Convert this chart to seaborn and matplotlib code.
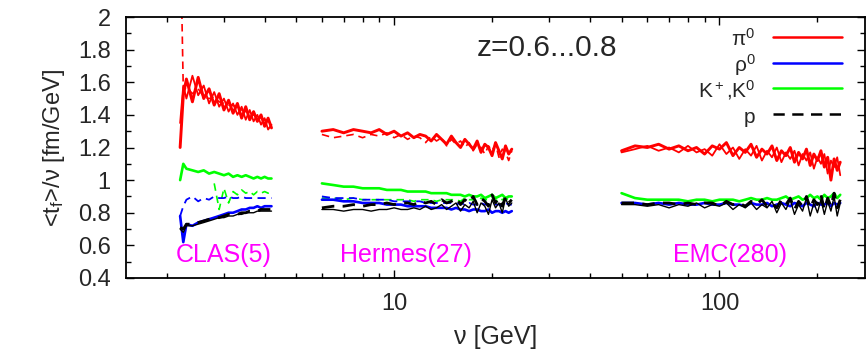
import numpy as np
import pandas as pd
import matplotlib
matplotlib.use("Agg")
import matplotlib.pyplot as plt
import seaborn as sns
from matplotlib.ticker import LogLocator, NullFormatter, MultipleLocator

# ---------------- data ----------------
nu_clas = [2.2, 2.25, 2.3, 2.4, 2.5, 2.6, 2.7, 2.8, 2.9, 3.0, 3.1, 3.2, 3.3, 3.4,
           3.5, 3.6, 3.7, 3.8, 3.9, 4.0, 4.1, 4.2]
nu_clas_late = [2.8, 2.9, 3.0, 3.1, 3.2, 3.3, 3.4, 3.5, 3.6, 3.7, 3.8, 3.9, 4.0, 4.1, 4.2]
nu_herm = [6.0, 6.5, 7.0, 7.5, 8.0, 8.5, 9.0, 9.5, 10.0, 10.5, 11.0, 11.5, 12.0, 12.5,
           13.0, 13.5, 14.0, 14.5, 15.0, 15.5, 16.0, 16.5, 17.0, 17.5, 18.0, 18.5,
           19.0, 19.5, 20.0, 20.5, 21.0, 21.5, 22.0, 22.5, 23.0]
nu_emc = [50, 55, 60, 65, 70, 75, 80, 85, 90, 95, 100, 105, 110, 115, 120, 125, 130,
          135, 140, 145, 150, 155, 160, 165, 170, 175, 180, 185, 190, 195, 200, 205,
          210, 215, 220, 225, 230, 235]

# pi0
pi_clas_a = [1.20, 1.52, 1.62, 1.48, 1.63, 1.50, 1.56, 1.46, 1.53, 1.43, 1.49, 1.41, 1.47,
             1.38, 1.45, 1.37, 1.42, 1.36, 1.40, 1.33, 1.38, 1.32]
pi_clas_b = [1.35, 1.58, 1.50, 1.64, 1.52, 1.58, 1.47, 1.54, 1.45, 1.50, 1.42, 1.47, 1.40,
             1.45, 1.37, 1.43, 1.36, 1.40, 1.34, 1.38, 1.31, 1.34]
pi_clas_d = [2.60, 1.55, 1.57, 1.53, 1.56, 1.51, 1.50, 1.51, 1.48, 1.47, 1.46, 1.46, 1.44,
             1.43, 1.42, 1.42, 1.40, 1.39, 1.38, 1.37, 1.36, 1.35]
pi_herm_a = [1.30, 1.31, 1.29, 1.31, 1.30, 1.29, 1.31, 1.28, 1.30, 1.27, 1.29, 1.26, 1.28,
             1.27, 1.24, 1.28, 1.25, 1.22, 1.27, 1.23, 1.20, 1.25, 1.22, 1.19, 1.24, 1.17,
             1.22, 1.20, 1.15, 1.23, 1.18, 1.13, 1.21, 1.16, 1.19]
pi_herm_d = [1.28, 1.26, 1.27, 1.28, 1.26, 1.28, 1.27, 1.29, 1.26, 1.28, 1.25, 1.27, 1.26,
             1.23, 1.27, 1.24, 1.26, 1.21, 1.25, 1.22, 1.24, 1.20, 1.23, 1.18, 1.22, 1.20,
             1.16, 1.21, 1.18, 1.22, 1.14, 1.19, 1.17, 1.12, 1.18]
pi_emc_a = [1.18, 1.21, 1.20, 1.22, 1.19, 1.21, 1.18, 1.20, 1.16, 1.21, 1.19, 1.23, 1.15,
            1.20, 1.17, 1.22, 1.14, 1.19, 1.16, 1.21, 1.12, 1.18, 1.15, 1.20, 1.11, 1.17,
            1.13, 1.19, 1.09, 1.16, 1.12, 1.18, 1.08, 1.14, 1.00, 1.13, 1.06, 1.11]
pi_emc_b = [1.17, 1.19, 1.21, 1.18, 1.20, 1.17, 1.21, 1.17, 1.19, 1.15, 1.22, 1.16, 1.20,
            1.13, 1.19, 1.15, 1.21, 1.12, 1.18, 1.14, 1.20, 1.11, 1.17, 1.13, 1.18, 1.09,
            1.16, 1.12, 1.17, 1.07, 1.14, 1.10, 1.16, 1.04, 1.12, 1.08, 1.14, 1.03]

# rho0
rho_clas_a = [0.78, 0.62, 0.73, 0.72, 0.74, 0.75, 0.76, 0.77, 0.78, 0.79, 0.80, 0.80, 0.81,
              0.82, 0.82, 0.83, 0.83, 0.84, 0.83, 0.84, 0.84, 0.84]
rho_clas_d = [0.78, 0.84, 0.88, 0.90, 0.87, 0.89, 0.88, 0.90, 0.89, 0.89, 0.90, 0.89, 0.89,
              0.90, 0.89, 0.89, 0.89, 0.89, 0.89, 0.89, 0.89, 0.89]
rho_herm_a = [0.88, 0.88, 0.87, 0.87, 0.86, 0.86, 0.86, 0.85, 0.85, 0.85, 0.84, 0.84, 0.84,
              0.84, 0.83, 0.83, 0.83, 0.83, 0.82, 0.83, 0.82, 0.82, 0.81, 0.82, 0.82, 0.81,
              0.81, 0.82, 0.80, 0.81, 0.81, 0.80, 0.81, 0.80, 0.81]
rho_herm_d = [0.90, 0.89, 0.89, 0.89, 0.88, 0.88, 0.88, 0.88, 0.87, 0.87, 0.87, 0.87, 0.87,
              0.86, 0.86, 0.86, 0.86, 0.86, 0.86, 0.85, 0.86, 0.85, 0.86, 0.85, 0.85, 0.86,
              0.85, 0.85, 0.86, 0.85, 0.85, 0.84, 0.86, 0.85, 0.85]
rho_emc_a = [0.86, 0.86, 0.85, 0.86, 0.85, 0.86, 0.85, 0.85, 0.86, 0.85, 0.85, 0.86, 0.85,
             0.85, 0.84, 0.86, 0.85, 0.85, 0.86, 0.84, 0.85, 0.86, 0.85, 0.84, 0.86, 0.85,
             0.84, 0.86, 0.85, 0.84, 0.86, 0.85, 0.85, 0.86, 0.84, 0.86, 0.85, 0.86]

# K+, K0
k_clas_a = [1.00, 1.10, 1.07, 1.06, 1.05, 1.06, 1.04, 1.05, 1.04, 1.03, 1.04, 1.02, 1.03,
            1.02, 1.03, 1.02, 1.01, 1.02, 1.01, 1.02, 1.01, 1.01]
k_clas_d = [0.98, 0.82, 0.95, 0.86, 0.93, 0.91, 0.94, 0.92, 0.93, 0.91, 0.93, 0.92, 0.93,
            0.92, 0.93]
k_herm_a = [0.98, 0.97, 0.96, 0.96, 0.95, 0.95, 0.95, 0.94, 0.94, 0.94, 0.93, 0.93, 0.93,
            0.93, 0.92, 0.92, 0.92, 0.92, 0.91, 0.91, 0.91, 0.90, 0.91, 0.90, 0.90, 0.91,
            0.89, 0.90, 0.91, 0.89, 0.90, 0.91, 0.89, 0.90, 0.90]
k_herm_d = [0.89, 0.89, 0.88, 0.89, 0.88, 0.88, 0.88, 0.88, 0.88, 0.88, 0.88, 0.87, 0.88,
            0.88, 0.88, 0.87, 0.88, 0.88, 0.88, 0.88, 0.87, 0.89, 0.88, 0.88, 0.87, 0.89,
            0.88, 0.88, 0.89, 0.87, 0.89, 0.88, 0.89, 0.88, 0.88]
k_emc_a = [0.92, 0.89, 0.88, 0.88, 0.88, 0.88, 0.87, 0.88, 0.88, 0.87, 0.88, 0.88, 0.88,
           0.87, 0.88, 0.89, 0.88, 0.88, 0.89, 0.88, 0.88, 0.89, 0.90, 0.88, 0.89, 0.90,
           0.88, 0.89, 0.91, 0.89, 0.90, 0.88, 0.91, 0.89, 0.90, 0.92, 0.89, 0.91]

# p
p_clas_a = [0.70, 0.68, 0.72, 0.72, 0.73, 0.74, 0.75, 0.76, 0.77, 0.77, 0.78, 0.78, 0.79,
            0.79, 0.80, 0.80, 0.80, 0.81, 0.81, 0.81, 0.81, 0.81]
p_clas_d = [0.71, 0.70, 0.73, 0.73, 0.74, 0.75, 0.76, 0.77, 0.77, 0.78, 0.79, 0.79, 0.79,
            0.80, 0.80, 0.81, 0.81, 0.81, 0.82, 0.82, 0.82, 0.82]
p_herm_a = [0.82, 0.82, 0.81, 0.82, 0.82, 0.81, 0.82, 0.82, 0.83, 0.82, 0.82, 0.83, 0.82,
            0.84, 0.82, 0.83, 0.85, 0.82, 0.84, 0.86, 0.81, 0.85, 0.83, 0.87, 0.80, 0.86,
            0.84, 0.79, 0.88, 0.83, 0.86, 0.80, 0.89, 0.84, 0.86]
p_herm_d = [0.83, 0.84, 0.84, 0.85, 0.84, 0.85, 0.85, 0.86, 0.85, 0.86, 0.86, 0.85, 0.87,
            0.86, 0.87, 0.85, 0.88, 0.86, 0.87, 0.89, 0.85, 0.88, 0.86, 0.90, 0.85, 0.89,
            0.87, 0.84, 0.91, 0.86, 0.89, 0.84, 0.90, 0.86, 0.88]
p_emc_a = [0.85, 0.85, 0.84, 0.85, 0.83, 0.85, 0.84, 0.86, 0.83, 0.85, 0.84, 0.86, 0.82,
           0.85, 0.83, 0.86, 0.82, 0.85, 0.83, 0.87, 0.80, 0.86, 0.82, 0.88, 0.79, 0.85,
           0.81, 0.89, 0.78, 0.86, 0.80, 0.88, 0.79, 0.87, 0.81, 0.90, 0.78, 0.86]
p_emc_d = [0.86, 0.86, 0.85, 0.86, 0.86, 0.85, 0.86, 0.85, 0.86, 0.86, 0.84, 0.87, 0.85,
           0.86, 0.84, 0.87, 0.85, 0.88, 0.84, 0.86, 0.83, 0.88, 0.85, 0.89, 0.82, 0.87,
           0.84, 0.90, 0.83, 0.88, 0.85, 0.91, 0.82, 0.89, 0.84, 0.92, 0.83, 0.88]

legend_labels = ["π$^0$", "ρ$^0$", "K$^+$,K$^0$", "p"]
experiment_labels = ["CLAS(5)", "Hermes(27)", "EMC(280)"]
experiment_pos = [3.0, 10.9, 108.0]
ytick_vals = [0.4, 0.6, 0.8, 1.0, 1.2, 1.4, 1.6, 1.8, 2.0]
ytick_labels = ["0.4", "0.6", "0.8", "1", "1.2", "1.4", "1.6", "1.8", "2"]

# ---------------- styling ----------------
sns.set_style("ticks")
plt.rcParams["font.family"] = ["Liberation Sans", "DejaVu Sans"]
plt.rcParams["font.size"] = 17
plt.rcParams["mathtext.fontset"] = "custom"
plt.rcParams["mathtext.rm"] = "Liberation Sans"
plt.rcParams["mathtext.it"] = "Liberation Sans:italic"
plt.rcParams["mathtext.default"] = "regular"

RED, BLUE, GREEN, BLACK = "#ff0000", "#0000ff", "#00ff00", "#000000"

# (color, style, lw, segments)
series = [
    (GREEN, "d", 1.2, [(nu_clas_late, k_clas_d), (nu_herm, k_herm_d)]),
    (BLUE, "d", 1.3, [(nu_clas, rho_clas_d), (nu_herm, rho_herm_d)]),
    (GREEN, "s", 1.9, [(nu_clas, k_clas_a), (nu_herm, k_herm_a), (nu_emc, k_emc_a)]),
    (BLUE, "s", 1.9, [(nu_clas, rho_clas_a), (nu_herm, rho_herm_a), (nu_emc, rho_emc_a)]),
    (BLACK, "s", 1.0, [(nu_clas, p_clas_a), (nu_herm, p_herm_a), (nu_emc, p_emc_a)]),
    (BLACK, "d", 2.0, [(nu_clas, p_clas_d), (nu_herm, p_herm_d), (nu_emc, p_emc_d)]),
    (RED, "d", 1.2, [(nu_clas, pi_clas_d), (nu_herm, pi_herm_d)]),
    (RED, "s", 1.3, [(nu_clas, pi_clas_b), (nu_emc, pi_emc_b)]),
    (RED, "s", 2.1, [(nu_clas, pi_clas_a), (nu_herm, pi_herm_a), (nu_emc, pi_emc_a)]),
]

fig = plt.figure(figsize=(8.66, 3.56), dpi=100)
ax = fig.add_axes([126 / 866, 1 - 278 / 356, 739 / 866, 261 / 356])

for color, style, lw, segs in series:
    rows = []
    for i, (xs, ys) in enumerate(segs):
        for x, y in zip(xs, ys):
            rows.append({"nu": x, "val": y, "seg": i})
    df = pd.DataFrame(rows)
    kw = dict(data=df, x="nu", y="val", units="seg", estimator=None, sort=False,
              color=color, lw=lw, ax=ax, legend=False)
    sns.lineplot(**kw)
    if style == "d":
        for ln in ax.lines[-len(segs):]:
            ln.set_dashes((4.5, 3.0))

ax.set_xscale("log")
ax.set_xlim(1.5, 280)
ax.set_ylim(0.4, 2.0)
ax.set_xticks([10, 100])
ax.set_xticklabels(["10", "100"])
ax.xaxis.set_minor_locator(LogLocator(base=10, subs=range(2, 10)))
ax.xaxis.set_minor_formatter(NullFormatter())
ax.set_yticks(ytick_vals)
ax.set_yticklabels(ytick_labels)
ax.yaxis.set_minor_locator(MultipleLocator(0.1))
ax.tick_params(which="both", direction="in", top=True, right=True, color="black",
               width=1.0)
ax.tick_params(which="major", length=6)
ax.tick_params(which="minor", length=3.5)
ax.tick_params(axis="y", which="major", pad=11)
ax.tick_params(axis="x", which="major", pad=11)
for sp in ax.spines.values():
    sp.set_linewidth(1.3)
    sp.set_color("black")

ax.set_xlabel("ν [GeV]", labelpad=7, fontsize=18)
ax.set_ylabel("<t$_f$>/ν [fm/GeV]", labelpad=8)

for lab, xp in zip(experiment_labels, experiment_pos):
    ax.text(xp, 0.54, lab, color="#ff00ff", ha="center", va="center", fontsize=18)
ax.text(17.9, 1.81, "z=0.6...0.8", ha="left", va="center", fontsize=21.5)

# legend (text right-aligned, sample on the right)
leg_colors = [RED, BLUE, GREEN, BLACK]
leg_styles = ["s", "s", "s", "d"]
row_y = [0.923, 0.824, 0.728, 0.628]
for lab, c, st, yy in zip(legend_labels, leg_colors, leg_styles, row_y):
    ln, = ax.plot([0.8755, 0.969], [yy, yy], transform=ax.transAxes, color=c, lw=1.8,
                  clip_on=False)
    if st == "d":
        ln.set_dashes((4.5, 3.0))
    ax.text(0.852, yy - 0.035, lab, transform=ax.transAxes, ha="right", va="baseline",
            fontsize=15)

fig.savefig("out.png", dpi=100)
